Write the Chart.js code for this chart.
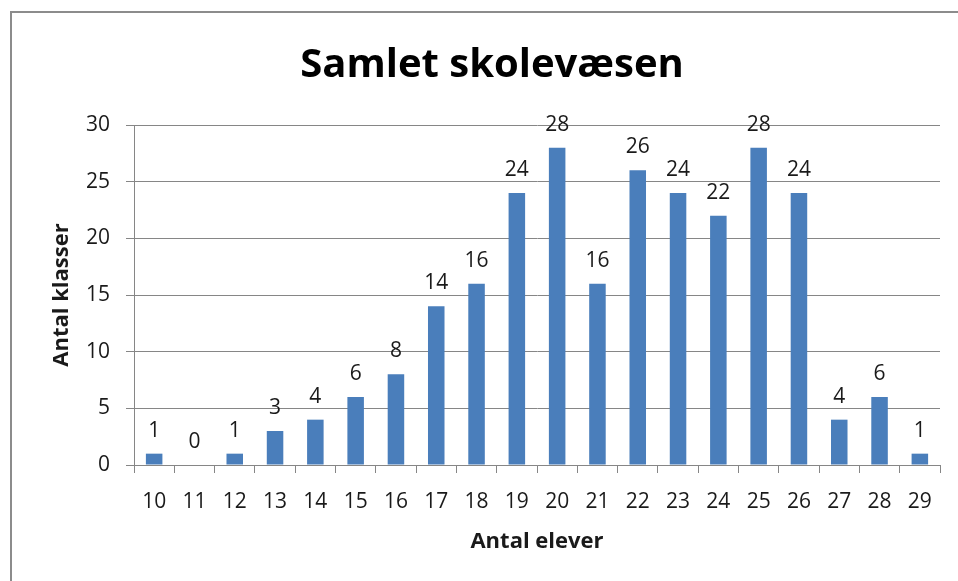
<!DOCTYPE html>
<html>
<head>
<meta charset="utf-8">
<script src="https://cdn.jsdelivr.net/npm/chart.js@4/dist/chart.umd.min.js"></script>
<style>
  html, body { margin: 0; padding: 0; background: #fff; }
  #wrap { width: 958px; height: 581px; position: relative; }
</style>
</head>
<body>
<div id="wrap"><canvas id="c" width="958" height="581"></canvas></div>
<script>
const categories = ['10','11','12','13','14','15','16','17','18','19','20','21','22','23','24','25','26','27','28','29'];
const antalKlasser = [1,0,1,3,4,6,8,14,16,24,28,16,26,24,22,28,24,4,6,1];
const yTicks = [0,5,10,15,20,25,30];
const chartTitle = 'Samlet skolevæsen';
const xTitle = 'Antal elever';
const yTitle = 'Antal klasser';

const FONT = 'Open Sans';
const GRID = '#868686';
const TXT = '#1a1a1a';

const framePlugin = {
  id: 'frame',
  beforeDraw(chart) {
    const ctx = chart.ctx;
    ctx.save();
    ctx.fillStyle = '#fff';
    ctx.fillRect(0, 0, chart.width, chart.height);
    ctx.strokeStyle = '#8c8c8c';
    ctx.lineWidth = 2;
    ctx.strokeRect(11, 12, chart.width + 50, chart.height + 50);
    ctx.restore();
  }
};

const titleShift = {
  id: 'titleShift',
  afterLayout(chart) {
    const t = chart.titleBlock;
    if (t) { t.left = 4; t.right = 980; }
  }
};

const labelPlugin = {
  id: 'valueLabels',
  afterDatasetsDraw(chart) {
    const ctx = chart.ctx;
    const meta = chart.getDatasetMeta(0);
    ctx.save();
    ctx.font = '21px "' + FONT + '"';
    ctx.fillStyle = TXT;
    ctx.textAlign = 'center';
    ctx.textBaseline = 'middle';
    meta.data.forEach((bar, i) => {
      ctx.fillText(String(antalKlasser[i]), bar.x, bar.y - 23);
    });
    ctx.restore();
  }
};

new Chart(document.getElementById('c'), {
  type: 'bar',
  data: {
    labels: categories,
    datasets: [{
      data: antalKlasser,
      backgroundColor: '#4a7ebb',
      borderWidth: 0,
      categoryPercentage: 1,
      barPercentage: 0.41
    }]
  },
  options: {
    responsive: false,
    animation: false,
    layout: { padding: { left: 0, right: 18, top: 0, bottom: 0 } },
    plugins: {
      legend: { display: false },
      tooltip: { enabled: false },
      title: {
        display: true,
        text: chartTitle,
        color: '#000',
        font: { family: FONT, size: 40, weight: 'bold', lineHeight: 1.2 },
        padding: { top: 42, bottom: 35 },
        align: 'center'
      }
    },
    scales: {
      x: {
        grid: { display: true, drawOnChartArea: false, drawTicks: true, tickLength: 8, color: GRID, offset: true },
        border: { display: true, color: GRID, width: 1 },
        ticks: { color: TXT, font: { family: FONT, size: 21 }, padding: 16, maxRotation: 0, autoSkip: false },
        title: { display: true, text: xTitle, color: TXT, font: { family: FONT, size: 22, weight: 'bold', lineHeight: 1.2 }, padding: { top: 0, bottom: 26 } },
        afterFit(scale) { scale.height = 116; }
      },
      y: {
        min: 0, max: 30,
        afterBuildTicks(scale) { scale.ticks = yTicks.map(v => ({ value: v })); },
        grid: { display: true, drawOnChartArea: true, drawTicks: true, tickLength: 8, color: GRID },
        border: { display: true, color: GRID, width: 1 },
        ticks: { color: TXT, font: { family: FONT, size: 21 }, padding: 16 },
        title: { display: true, text: yTitle, color: TXT, font: { family: FONT, size: 22, weight: 'bold', lineHeight: 1.2 }, padding: { top: 49, bottom: 0 } },
        afterFit(scale) { scale.width = 134; }
      }
    }
  },
  plugins: [framePlugin, titleShift, labelPlugin]
});
</script>
</body>
</html>
